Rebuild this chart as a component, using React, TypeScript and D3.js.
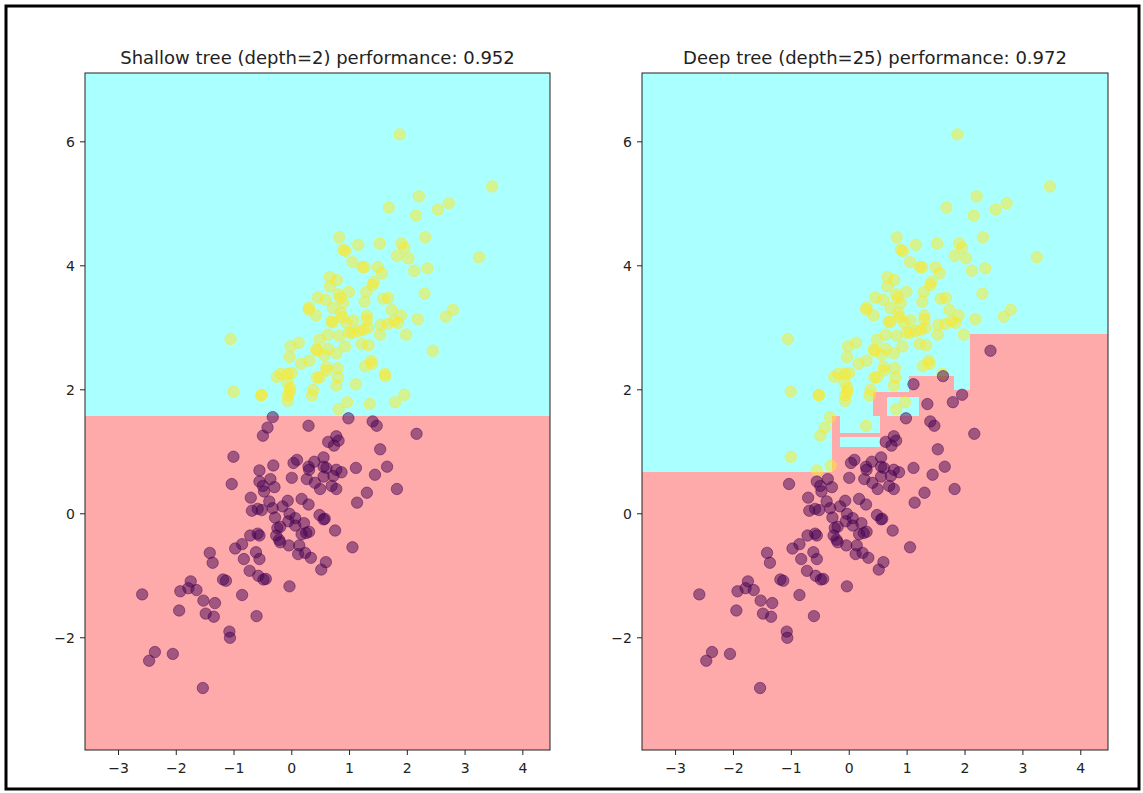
import React from 'react';
import * as d3 from 'd3';

// Axis extents (data min/max padded by 1) and tick values
const xExtent: [number, number] = [-3.58, 4.47];
const yExtent: [number, number] = [-3.81, 7.11];
const xTicks = [-3, -2, -1, 0, 1, 2, 3, 4];
const yTicks = [-2, 0, 2, 4, 6];

// viridis endpoints for the two classes, light region colours
const classColors = ['#440154', '#fde725'];
const regionColors = ['#ffaaaa', '#aaffff'];

// Samples of class 1
const class1Points: [number, number][] = [
  [1.87, 6.12], [3.47, 5.28], [2.2, 5.12], [2.72, 5.01], [1.68, 4.94], [2.53, 4.91], [2.15, 4.81],
  [2.31, 4.46], [0.82, 4.46], [1.15, 4.34], [1.52, 4.36], [1.9, 4.36], [1.95, 4.29], [0.89, 4.26],
  [0.93, 4.24], [1.82, 4.16], [2.02, 4.12], [3.24, 4.14], [1.05, 4.06], [1.22, 3.98], [1.26, 3.98],
  [1.49, 3.98], [2.12, 3.92], [2.35, 3.96], [1.56, 3.88], [0.66, 3.82], [0.78, 3.77], [0.66, 3.67],
  [1.42, 3.74], [1.4, 3.69], [1.29, 3.58], [0.99, 3.58], [0.81, 3.54], [0.84, 3.48], [0.45, 3.49],
  [0.59, 3.45], [1.26, 3.42], [0.89, 3.4], [1.58, 3.47], [1.67, 3.48], [2.3, 3.55], [0.3, 3.33],
  [0.29, 3.29], [0.71, 3.32], [0.42, 3.2], [0.85, 3.24], [0.87, 3.17], [1.73, 3.29], [1.89, 3.2],
  [2.79, 3.29], [2.67, 3.18], [2.18, 3.14], [1.3, 3.2], [1.3, 3.13], [0.68, 3.1], [0.71, 3.09],
  [1.06, 3.12], [0.95, 3.08], [1.77, 3.11], [1.84, 3.08], [1.54, 3.05], [1.66, 3.06], [1.32, 3.0],
  [1.24, 2.97], [1.15, 2.95], [1.05, 2.92], [0.99, 2.92], [0.82, 2.87], [0.63, 2.89], [0.48, 2.81],
  [1.53, 2.89], [1.98, 2.89], [-1.06, 2.82], [0.12, 2.76], [-0.02, 2.7], [0.92, 2.7], [1.21, 2.74],
  [1.33, 2.72], [0.42, 2.65], [0.44, 2.63], [0.63, 2.66], [0.77, 2.59], [0.56, 2.56], [-0.04, 2.53],
  [0.16, 2.42], [0.3, 2.47], [1.37, 2.47], [1.39, 2.42], [1.27, 2.38], [0.6, 2.37], [0.6, 2.31],
  [0.79, 2.35], [-0.26, 2.21], [-0.19, 2.26], [-0.07, 2.26], [0.0, 2.27], [0.43, 2.2], [0.48, 2.2],
  [0.8, 2.2], [1.61, 2.26], [-0.08, 2.12], [0.77, 2.07], [-0.03, 2.03], [-0.03, 1.97], [-1.01, 1.97],
  [-0.53, 1.91], [-0.52, 1.92], [0.37, 2.0], [0.35, 1.91], [-0.07, 1.91], [-0.07, 1.82], [0.96, 1.8],
  [0.81, 1.69], [-0.33, 1.56], [0.29, 1.42], [-0.42, 1.39], [-0.5, 1.26], [-1.01, 0.92], [-0.32, 0.78],
  [-0.56, 0.7],
];

// Samples of class 0
const class0Points: [number, number][] = [
  [2.44, 2.63], [1.62, 2.22], [1.11, 2.09], [1.95, 1.92], [1.79, 1.8], [1.35, 1.77],
  [0.98, 1.54], [1.4, 1.49], [1.47, 1.42], [2.16, 1.29], [0.77, 1.25], [0.81, 1.18], [0.73, 1.1],
  [0.63, 1.16], [1.53, 1.04], [0.55, 0.91], [0.09, 0.87], [0.03, 0.82], [0.39, 0.84], [0.29, 0.76],
  [0.3, 0.71], [0.26, 0.56], [0.55, 0.76], [0.6, 0.74], [0.77, 0.71], [0.86, 0.67], [1.11, 0.74],
  [1.65, 0.76], [0.55, 0.6], [0.72, 0.61], [1.44, 0.63], [0.0, 0.58], [0.4, 0.5], [-0.56, 0.52],
  [-0.37, 0.56], [-0.5, 0.45], [-0.3, 0.43], [-0.48, 0.36], [0.49, 0.4], [0.69, 0.45], [0.77, 0.4],
  [-1.04, 0.48], [1.82, 0.4], [1.3, 0.34], [-0.71, 0.26], [-0.07, 0.21], [-0.39, 0.2], [0.17, 0.24],
  [0.29, 0.15], [1.13, 0.18], [-0.69, 0.05], [-0.59, 0.08], [-0.52, 0.06], [-0.33, 0.09], [-0.16, 0.12],
  [-0.29, -0.06], [-0.04, 0.0], [0.06, -0.07], [-0.06, -0.12], [0.48, -0.02], [0.57, -0.08], [0.55, -0.09],
  [0.21, -0.15], [0.06, -0.19], [-0.25, -0.23], [-0.2, -0.21], [0.75, -0.27], [-0.72, -0.35], [-0.59, -0.32],
  [-0.56, -0.35], [-0.27, -0.35], [-0.22, -0.42], [-0.2, -0.46], [0.17, -0.33], [0.25, -0.31], [0.3, -0.29],
  [-0.05, -0.51], [-0.86, -0.49], [-0.98, -0.56], [0.13, -0.51], [0.11, -0.65], [0.23, -0.63], [0.33, -0.71],
  [1.05, -0.54], [-0.62, -0.62], [-0.83, -0.73], [-0.56, -0.73], [-1.42, -0.63], [-1.37, -0.79], [0.59, -0.78],
  [0.51, -0.9], [-0.73, -0.92], [-0.58, -1.0], [-0.49, -1.06], [-0.45, -1.05], [-1.19, -1.06], [-1.14, -1.08],
  [-1.75, -1.09], [-1.79, -1.2], [-1.65, -1.23], [-1.93, -1.25], [-0.04, -1.17], [-0.86, -1.31], [-2.59, -1.3],
  [-1.53, -1.4], [-1.33, -1.44], [-1.95, -1.56], [-1.49, -1.61], [-1.35, -1.66], [-0.61, -1.65], [-1.08, -1.9],
  [-1.07, -2.0], [-2.37, -2.23], [-2.47, -2.37], [-2.06, -2.26], [-1.54, -2.81],
];

// Depth-2 tree: a single horizontal split on the second feature
const shallowSplitY = 1.575;

// Depth-25 tree leaves predicting class 0: [x0, x1, y0, y1]
const deepClass0Cells: [number, number, number, number][] = [
  [-3.58, -0.29, -3.81, 0.68],
  [-0.29, -0.16, -3.81, 1.57],
  [-0.16, 0.54, -3.81, 1.08],
  [-0.16, 0.54, 1.24, 1.3],
  [0.54, 1.03, -3.81, 1.97],
  [0.41, 0.54, 1.57, 1.97],
  [1.03, 1.81, -3.81, 2.23],
  [1.81, 2.08, -3.81, 1.99],
  [2.08, 4.47, -3.81, 2.9],
];
// Leaves predicting class 1 inside the class 0 area
const deepClass1Cells: [number, number, number, number][] = [[0.65, 1.2, 1.58, 1.89]];

const W = 1143;
const H = 793;
const top = 73;
const bottom = 750;
const font = 'DejaVu Sans, sans-serif';

type Sample = { x: number; y: number; cls: number };
const samples: Sample[] = [
  ...class1Points.map(([x, y]) => ({ x, y, cls: 1 })),
  ...class0Points.map(([x, y]) => ({ x, y, cls: 0 })),
];

const fmt = (v: number) => (v < 0 ? '\u2212' + Math.abs(v) : String(v));

function Panel({ id, left, right, title, cells, predict }: {
  id: string; left: number; right: number; title: string;
  cells: { c: [number, number, number, number]; cls: number }[];
  predict: (s: Sample) => number;
}) {
  const x = d3.scaleLinear().domain(xExtent).range([left, right]);
  const y = d3.scaleLinear().domain(yExtent).range([bottom, top]);
  return (
    <g>
      <defs>
        <clipPath id={id}>
          <rect x={left} y={top} width={right - left} height={bottom - top} />
        </clipPath>
      </defs>
      <g clipPath={`url(#${id})`}>
        <rect x={left} y={top} width={right - left} height={bottom - top} fill={regionColors[1]} />
        {cells.map(({ c, cls }, i) => (
          <rect key={i} x={x(c[0])} y={y(c[3])} width={x(c[1]) - x(c[0])} height={y(c[2]) - y(c[3])}
            fill={regionColors[cls]} shapeRendering="crispEdges" />
        ))}
        {samples.map((s, i) => {
          const col = classColors[predict(s)];
          return (
            <circle key={i} cx={x(s.x)} cy={y(s.y)} r={5.7} fill={col} fillOpacity={0.5}
              stroke={col} strokeOpacity={0.45} strokeWidth={1} />
          );
        })}
      </g>
      <rect x={left} y={top} width={right - left} height={bottom - top} fill="none" stroke="#222" strokeWidth={1} />
      {xTicks.map((t) => (
        <g key={t}>
          <line x1={x(t)} x2={x(t)} y1={bottom} y2={bottom + 5} stroke="#222" />
          <text x={x(t)} y={bottom + 23} fontSize={14} textAnchor="middle" fontFamily={font} fill="#222">{fmt(t)}</text>
        </g>
      ))}
      {yTicks.map((t) => (
        <g key={t}>
          <line x1={left - 5} x2={left} y1={y(t)} y2={y(t)} stroke="#222" />
          <text x={left - 10} y={y(t) + 5} fontSize={14} textAnchor="end" fontFamily={font} fill="#222">{fmt(t)}</text>
        </g>
      ))}
      <text x={(left + right) / 2} y={top - 9} fontSize={18} textAnchor="middle" fontFamily={font} fill="#222">{title}</text>
    </g>
  );
}

export default function App() {
  const deepCells = [
    ...deepClass0Cells.map((c) => ({ c, cls: 0 })),
    ...deepClass1Cells.map((c) => ({ c, cls: 1 })),
  ];
  const shallowCells = [{ c: [xExtent[0], xExtent[1], yExtent[0], shallowSplitY] as [number, number, number, number], cls: 0 }];
  return (
    <svg width={W} height={H} style={{ position: 'absolute', left: 0, top: 0 }}>
      <rect x={0} y={0} width={W} height={H} fill="#fff" />
      <rect x={6} y={6} width={1133} height={783} fill="none" stroke="#000" strokeWidth={3} />
      <Panel id="clipShallow" left={85} right={550} title="Shallow tree (depth=2) performance: 0.952"
        cells={shallowCells} predict={(s) => (s.y > shallowSplitY ? 1 : 0)} />
      <Panel id="clipDeep" left={642} right={1108} title="Deep tree (depth=25) performance: 0.972"
        cells={deepCells} predict={(s) => s.cls} />
    </svg>
  );
}
